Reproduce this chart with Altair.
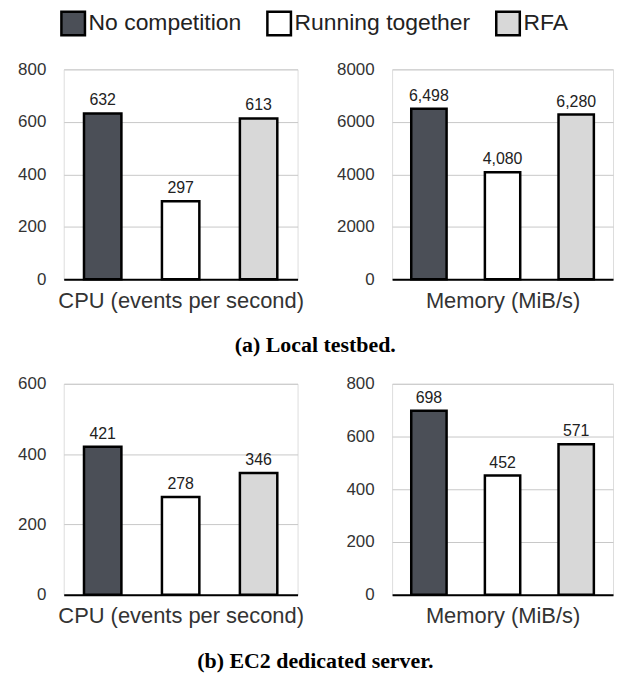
import altair as alt
import pandas as pd

categories = ["No competition", "Running together", "RFA"]
fill_colors = ["#4b4f57", "#ffffff", "#d8d8d8"]

local_cpu = [632, 297, 613]
local_mem = [6498, 4080, 6280]
ec2_cpu = [421, 278, 346]
ec2_mem = [698, 452, 571]

FONT = "Liberation Sans"


def panel(values, title, ymax, ystep, width, height):
    df = pd.DataFrame({"cat": categories, "value": values})
    x = alt.X(
        "cat:N",
        sort=categories,
        scale=alt.Scale(paddingInner=0.52, paddingOuter=0.26),
        axis=alt.Axis(
            title=title,
            labels=False,
            ticks=False,
            domain=True,
            domainColor="#000000",
            domainWidth=2,
            titleFont=FONT,
            titleFontSize=22,
            titleFontWeight="normal",
            titleColor="#333333",
            titlePadding=11,
        ),
    )
    y = alt.Y(
        "value:Q",
        scale=alt.Scale(domain=[0, ymax], nice=False),
        axis=alt.Axis(
            title=None,
            values=list(range(0, ymax + 1, ystep)),
            format="d",
            domain=False,
            ticks=False,
            grid=True,
            gridColor="#c8c8c8",
            gridWidth=1,
            labelFont=FONT,
            labelFontSize=17,
            labelColor="#333333",
            labelPadding=18,
        ),
    )
    bars = alt.Chart(df).mark_bar(stroke="#000000", strokeWidth=2.5).encode(
        x=x,
        y=y,
        color=alt.Color(
            "cat:N",
            sort=categories,
            scale=alt.Scale(domain=categories, range=fill_colors),
            legend=alt.Legend(
                title=None,
                orient="none",
                legendX=-4,
                legendY=-60,
                direction="horizontal",
                symbolType="square",
                symbolSize=560,
                symbolStrokeColor="#000000",
                symbolStrokeWidth=2.5,
                labelFont=FONT,
                labelFontSize=23,
                labelColor="#222222",
                labelLimit=400,
                labelOffset=2,
                columnPadding=20,
            ),
        ),
    )
    labels = alt.Chart(df).mark_text(
        baseline="bottom", dy=-5, font=FONT, fontSize=16, color="#222222"
    ).encode(
        x=alt.X("cat:N", sort=categories),
        y="value:Q",
        text=alt.Text("value:Q", format=",d"),
    )
    return alt.layer(bars, labels).properties(width=width, height=height)


def caption(text):
    return alt.TitleParams(
        text,
        orient="bottom",
        anchor="middle",
        font="Liberation Serif",
        fontWeight="bold",
        fontSize=22,
        color="#000000",
        offset=24,
    )


row_a = alt.hconcat(
    panel(local_cpu, "CPU (events per second)", 800, 200, 235, 211),
    panel(local_mem, "Memory (MiB/s)", 8000, 2000, 222, 211),
    spacing=95,
    bounds="flush",
    title=caption("(a) Local testbed."),
)
row_b = alt.hconcat(
    panel(ec2_cpu, "CPU (events per second)", 600, 200, 235, 212),
    panel(ec2_mem, "Memory (MiB/s)", 800, 200, 222, 212),
    spacing=95,
    bounds="flush",
    title=caption("(b) EC2 dedicated server."),
)

chart = (
    alt.vconcat(row_a, row_b, spacing=17)
    .configure_view(stroke=None)
    .configure(padding={"left": 9, "top": 0, "right": 0, "bottom": 0}, background="#ffffff")
)

chart.save("out.html", embed_options={"renderer": "svg", "actions": False})
